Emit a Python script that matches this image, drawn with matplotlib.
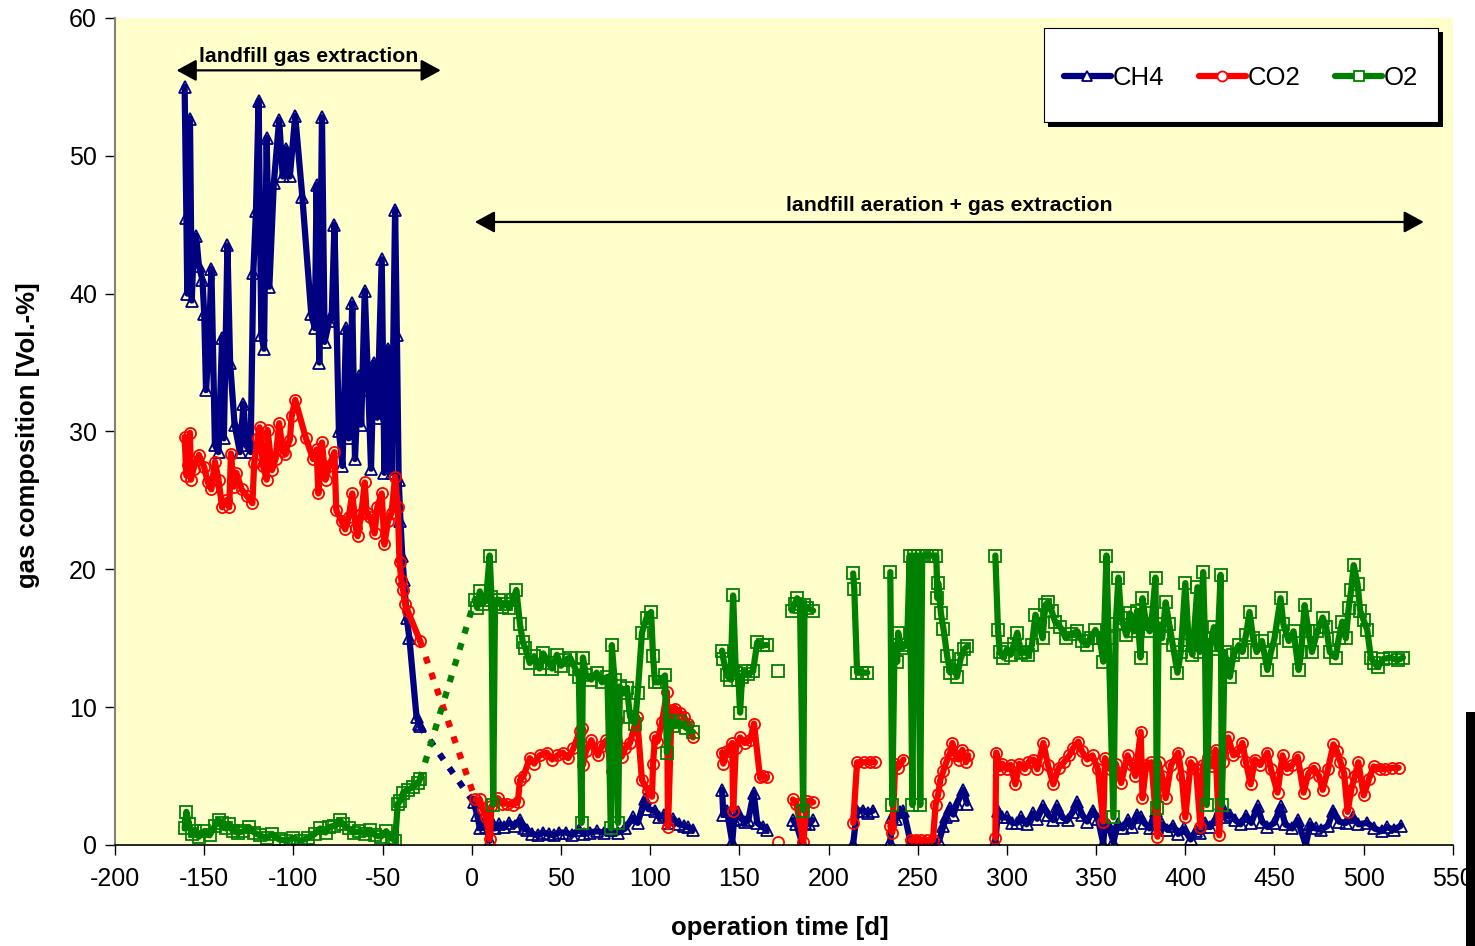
import numpy as np
import matplotlib
matplotlib.use("Agg")
import matplotlib.pyplot as plt
from matplotlib.patches import Rectangle

nan = np.nan

# --- landfill gas extraction phase (days before aeration start) ---
ch4_days_1 = [-161, -160, -159.5, -158, -157, -156, -154.5, -153, -151, -150, -149, -147.5,
              -146, -144, -142, -140, -139, -137, -135.5, -133, -130, -128, -126.5, -124,
              -122.5, -121, -119.5, -118, -116.5, -115, -113.5, -111, -108, -106, -104, -102,
              -99, -95, -90, -88, -87, -85.5, -84, -82.5, -80, -78.5, -77, -74.5, -72.5,
              -70.5, -69, -67, -65.5, -63.5, -62, -60, -58, -56.5, -55, -53, -50.5, -49, -47,
              -45, -43, -42, -41, -40, -39, -38, -36.5, -35, -31, -29.5, -29]
ch4_vol_1 = [55.0, 45.5, 40.0, 52.7, 39.5, 43.0, 44.2, 42.0, 41.0, 38.5, 33.0, 36.0,
             41.8, 29.0, 28.5, 36.8, 29.5, 43.5, 35.0, 30.5, 28.5, 32.0, 29.0, 28.5,
             41.5, 46.0, 54.0, 37.0, 36.0, 51.3, 40.5, 48.0, 52.6, 48.5, 50.5, 48.5,
             52.9, 47.0, 38.5, 37.5, 47.9, 35.0, 52.8, 36.5, 38.0, 38.5, 45.0, 30.0, 27.5,
             37.5, 29.5, 39.3, 28.0, 34.0, 30.5, 40.2, 33.0, 27.3, 35.0, 31.0, 42.5, 27.0, 36.0,
             27.0, 46.1, 37.0, 26.5, 23.5, 21.0, 19.2, 16.5, 15.0, 9.3, 8.8, 8.6]

co2_days_1 = [-161, -160, -159, -158, -157.5, -156, -153, -150, -148, -146, -144, -142,
              -140, -138, -136, -135, -133.5, -132, -129, -126, -123, -122, -120, -119,
              -117, -115, -114.5, -112, -110, -108, -106, -105, -102, -101, -99, -93, -89,
              -87, -86, -84, -82, -80, -77, -76, -73, -71, -69, -67, -65, -64, -62, -60,
              -59, -57, -54.5, -53, -50.5, -49, -47, -45, -43, -41.5, -40.5, -39.5, -38.5,
              -37.5, -36, -29]
co2_vol_1 = [29.6, 26.8, 27.6, 29.9, 26.5, 27.3, 28.3, 27.4, 26.3, 25.8, 27.8, 26.5,
             24.5, 25.0, 24.5, 28.4, 26.0, 27.0, 25.8, 25.3, 24.8, 27.7, 29.5, 30.3,
             27.5, 26.5, 30.1, 27.2, 28.0, 30.6, 28.6, 28.4, 29.4, 31.1, 32.3, 29.5, 28.0,
             28.7, 25.5, 29.2, 26.5, 27.5, 28.5, 24.3, 23.5, 22.9, 23.8, 25.5, 23.0, 22.4, 24.0, 26.3,
             24.1, 23.8, 22.6, 24.5, 25.5, 21.8, 23.5, 24.1, 26.7, 24.5, 20.5, 19.2, 18.5,
             17.5, 17.0, 14.8]

o2_days_1 = [-161, -160, -158.5, -157, -155, -153, -150, -147, -144, -142, -140, -138,
             -136, -134, -131, -128, -125, -122, -119, -115, -112, -108, -104, -100, -96,
             -92, -88, -85, -82, -80, -77, -74, -72, -69, -66, -63, -60, -57, -54, -51,
             -48, -45, -43, -41.5, -40, -38.5, -36, -33, -30, -29]
o2_vol_1 = [1.2, 2.4, 1.5, 0.8, 1.0, 0.6, 1.0, 0.7, 1.4, 1.8, 1.6, 1.2,
            1.5, 1.0, 0.9, 1.0, 1.3, 0.9, 0.7, 0.5, 0.8, 0.4, 0.3, 0.5, 0.3,
            0.5, 0.8, 1.2, 0.9, 1.3, 1.4, 1.8, 1.5, 1.2, 0.9, 1.0, 0.8, 1.1, 0.7, 0.6,
            1.0, 0.5, 0.3, 3.0, 3.2, 3.8, 4.0, 4.2, 4.5, 4.8]

# --- aeration + gas extraction phase (nan = no measurement, line broken) ---
ch4_days_2 = [1, 3, 4.5, 6, 8, 10, 11, 13, 15.5, 18, 21, 24, 27, 29, 31, 34, 37, 40, 43, 46,
              49, 53, 56, 60, 63, 66, 70, 74, 78, 82, 86, 90.3, 93, 97, 99, 102.7, 105, 108,
              110, 113, 116, 119, 121, 124, nan,
              140.3, 141, 143, 146, 147, 149, 151, 153, 155, 158, 160, 163, 165.5, nan,
              180, 182, 185, 187, 189, 191, nan,
              213.8, 216, 219.4, 222, 225, nan,
              234.6, 235.7, 238, 240, 242, 246, 250, 254, 258, 262, 264.4, 266, 268.2, 270,
              272, 275.5, 277.7, nan,
              293.5, 295, 297, 300, 303, 305.8, 308, 311, 314.8, 317, 320.4, 323, 326, 328,
              331, 334, 337, 339.5, 342, 345, 348, 351, 354, 355, 357, 359.7, 362, 365, 368,
              370, 373, 375, 377, 380, 383.3, 384.4, 387, 390, 393, 396, 399, 403, 406,
              408.5, 411, 414, 417, 419.8, 422, 425, 428, 431, 434, 437, 440.5, 443, 446,
              450, 453.4, 456, 460, 463, 467.5, 470, 473, 476, 480, 483, 486, 490, 494,
              497, 502, 506, 510, 513, 517, 520.8]
ch4_vol_2 = [3.1, 2.2, 1.2, 1.5, 1.3, 0.3, 1.8, 1.2, 1.5, 1.3, 1.6, 1.4, 1.8, 1.2, 1.1, 0.8,
             0.7, 0.9, 0.8, 0.7, 0.9, 0.9, 0.7, 1.1, 0.8, 0.9, 1.0, 0.9, 1.1, 0.9, 1.2, 2.0,
             1.6, 3.3, 2.6, 2.5, 2.0, 2.2, 1.6, 1.9, 1.5, 1.4, 1.3, 1.1, nan,
             4.0, 2.2, 2.5, 0.2, 1.8, 2.4, 1.9, 1.7, 1.8, 3.8, 1.6, 1.3, 1.1, nan,
             1.8, 1.5, 0.2, 1.6, 1.5, 1.8, nan,
             0.1, 2.5, 2.5, 2.3, 2.5, nan,
             0.2, 2.0, 1.9, 2.4, 2.5, 0.2, 0.2, 0.2, 0.2, 0.3, 1.4, 2.0, 2.7, 2.2,
             3.0, 4.0, 3.0, nan,
             0.2, 2.5, 2.0, 2.0, 1.6, 1.6, 2.0, 1.5, 2.3, 1.9, 2.8, 2.2, 1.8, 2.8,
             2.0, 1.8, 2.4, 3.1, 2.2, 1.7, 2.5, 1.9, 0.1, 1.8, 1.4, 0.2, 1.5, 1.2, 1.8,
             1.3, 2.2, 2.0, 1.6, 1.2, 2.5, 1.2, 1.5, 1.1, 1.4, 0.8, 1.2, 0.4, 1.0,
             0.9, 1.6, 1.3, 1.9, 3.0, 2.0, 2.2, 1.8, 1.5, 2.1, 1.6, 2.8, 1.7, 1.3,
             1.6, 2.8, 1.5, 1.2, 1.8, 0.0, 1.5, 1.2, 1.1, 1.4, 2.5, 1.7, 1.6, 2.0,
             1.5, 1.6, 1.2, 1.0, 1.3, 1.1, 1.4]

co2_days_2 = [2, 4.5, 6, 8, 10, 11, 14.6, 17, 20, 23, 25.8, 27, 29, 32.5, 35, 38, 42, 45, 48,
              51, 54, 57, 60.6, 61.7, 62.3, 64, 67, 70.7, 73, 75.5, 78.5, 81.4, 84, 86, 88.7,
              92.6, 95.4, 98.8, 101, 101.6, 102.7, 104, 106.6, 109.4, 110, 112, 114, 116.7,
              119, 121, 124, nan,
              140.3, 141, 143, 146, 146.5, 148, 150.4, 153, 156, 158.2, 161.6, 163, 165.5, nan,
              171.7, nan,
              180, 182, 185.8, 188, 191.4, nan,
              213.8, 216, 220, 223, 226, nan,
              234.6, 235.7, 237.4, 239, 242, nan,
              246, 249, 252, 255, 258.5, 260, 261.5, 262.6, 264.4, 266, 268.2, 269.4, 271,
              273, 275, 277, 278.3, nan,
              293.5, 294, 296, 297.4, 300, 302, 304.7, 307, 310, 312, 314.8, 317, 320.4, 323,
              326, 329, 332, 335, 337, 340, 342, 345, 348, 351, 354, 355, 358, 361, 364,
              367.6, 370, 372, 375, 376, 378, 381, 384.4, 385, 387, 389, 392, 396, 398, 400,
              403, 406, 408.5, 410, 412.5, 415, 417, 419, 421, 424, 427, 430, 432, 434,
              436.6, 439, 442, 446, 448, 451.7, 454.5, 457, 460, 463, 466.3, 469, 472, 475,
              477, 480, 483, 485, 487, 489, 491, 493, 495, 497, 500, 503, 505.6, 509, 512,
              516, 519.6]
co2_vol_2 = [3.3, 3.3, 2.6, 2.0, 0.4, 2.8, 3.4, 3.0, 3.0, 2.9, 3.1, 4.7, 5.0, 6.3, 5.9, 6.5,
             6.7, 6.2, 6.5, 6.7, 6.3, 7.0, 8.3, 8.5, 5.8, 6.8, 7.6, 6.5, 7.2, 7.6, 5.4, 9.1,
             6.4, 7.0, 7.4, 9.3, 4.7, 3.9, 3.5, 5.9, 7.8, 7.5, 8.9, 11.1, 1.3, 9.8, 9.9, 9.6,
             9.3, 8.8, 7.8, nan,
             6.7, 5.9, 6.8, 7.4, 2.5, 7.0, 7.8, 7.4, 7.6, 8.8, 4.9, 5.0, 4.9, nan,
             0.2, nan,
             3.3, 3.0, 0.2, 3.2, 3.1, nan,
             1.6, 6.0, 6.0, 6.0, 6.0, nan,
             1.4, 0.9, 5.9, 5.6, 6.2, nan,
             0.35, 0.35, 0.35, 0.35, 0.35, 2.9, 3.7, 4.7, 5.4, 6.0, 6.7, 7.4, 6.5,
             6.2, 6.9, 6.0, 6.5, nan,
             0.5, 6.7, 5.5, 5.9, 5.5, 5.8, 4.4, 5.9, 5.5, 6.0, 6.2, 5.5, 7.4, 5.8,
             4.4, 5.6, 6.0, 6.5, 7.0, 7.5, 6.8, 6.2, 6.5, 5.5, 1.7, 6.3, 5.5, 5.9, 4.5,
             6.5, 5.8, 5.0, 8.2, 3.4, 5.8, 6.0, 0.6, 6.0, 5.0, 3.4, 5.8, 6.7, 5.0, 2.0,
             6.0, 5.5, 1.3, 5.8, 6.4, 5.7, 6.9, 0.7, 6.0, 7.8, 6.5, 6.8, 7.4, 6.0,
             4.4, 6.2, 5.8, 6.7, 5.5, 3.8, 6.5, 5.5, 5.8, 6.4, 3.8, 5.2, 5.6, 5.0,
             4.0, 5.5, 7.3, 6.8, 6.0, 5.2, 2.4, 4.0, 5.0, 6.0, 3.6, 4.8, 5.7, 5.5, 5.5,
             5.6, 5.6]

o2_days_2 = [1.7, 3, 4.5, 6, 8, 10, 11, 12, 13, 15, 17, 19, 21, 23, 25, 27, 28.6, 30, 32.5,
             35, 38, 40, 43, 45, 47.7, 50, 52, 55, 58, 60, 61.5, 62.3, 64, 67, 70, 73, 76,
             78, 78.5, 80, 82, 83, 85, 87, 88.7, 91.5, 93, 95.4, 98, 100.5, 101.6, 102.7,
             105, 108.3, 109.4, 111, 113, 116.7, 120, 124, nan,
             140.3, 141, 143, 145, 146.5, 148, 149.5, 150.4, 151.5, 153, 155, 157.7, 160,
             163, 165.5, nan,
             171.7, nan,
             179.5, 181, 182.4, 184, 185.8, 186.5, 188, 191.4, nan,
             213.8, 214.4, 216, 219, 221.7, nan,
             234.6, 235.7, 237, 238.5, 239, 241, 244, 245.5, 247, 248, 250, 251.4, 252.5,
             255, 258, 260.4, 261, 261.5, 263, 264.4, 266.5, 268.2, 270, 272, 274, 276,
             277.7, nan,
             293.5, 295, 296, 298, 300, 302, 304, 305.8, 308, 310, 312, 314, 316, 318, 320,
             321.5, 323, 325, 327, 330, 333, 336, 339.5, 342, 345, 347, 349.6, 352, 354,
             355.8, 357, 359.7, 361, 362.5, 364, 367, 369, 371, 373, 374.9, 376, 378, 380,
             381.5, 383.3, 384, 385, 387, 389, 391, 393, 395.6, 397.5, 400, 402, 404,
             406.8, 408, 410, 411, 412, 414, 416, 418, 419.8, 420.5, 422, 425, 427, 430,
             432, 434, 436, 438, 440, 443, 446, 448, 450, 453.4, 455, 458, 460.7, 463.5,
             465, 466.9, 469, 471, 474, 477, 479, 481, 484.3, 486, 488, 490, 491.6, 493,
             494.4, 496.6, 498, 500, 502, 504, 506, 508, 511, 515, 519, 522]
o2_vol_2 = [17.8, 17.2, 18.4, 17.5, 17.8, 21.0, 18.0, 2.9, 17.5, 17.8, 17.3, 17.5, 17.2,
            17.8, 18.5, 16.0, 14.7, 14.3, 13.2, 13.7, 12.8, 13.9, 13.2, 12.8, 13.8, 13.0,
            13.4, 13.6, 12.8, 12.2, 1.6, 13.6, 12.3, 12.0, 12.5, 11.8, 12.2, 1.2, 14.5,
            12.0, 1.6, 11.5, 11.0, 11.4, 9.3, 8.8, 11.0, 15.4, 16.5, 16.9, 13.7, 11.8,
            11.8, 12.3, 6.7, 9.0, 8.6, 8.9, 8.5, 8.2, nan,
            14.1, 13.5, 12.3, 12.0, 18.1, 12.5, 12.0, 9.6, 12.2, 12.6, 12.4, 12.6, 14.7,
            14.5, 14.5, nan,
            12.6, nan,
            17.0, 17.5, 17.9, 17.3, 2.5, 17.4, 17.2, 17.0, nan,
            19.7, 18.6, 12.5, 12.5, 12.5, nan,
            19.8, 2.9, 14.5, 13.3, 15.4, 14.3, 14.5, 21.0, 2.9, 21.0, 21.0, 2.9, 21.0,
            21.0, 21.0, 21.0, 17.9, 19.0, 16.8, 15.7, 13.7, 12.5, 13.0, 12.2, 13.5, 14.2,
            14.4, nan,
            21.0, 15.6, 14.0, 13.6, 14.2, 13.8, 14.6, 15.4, 13.9, 14.0, 13.8, 14.5, 16.7,
            16.0, 15.0, 17.4, 17.6, 17.0, 16.2, 15.8, 15.0, 15.3, 15.5, 14.8, 14.5, 15.0,
            15.6, 15.0, 13.3, 21.0, 15.0, 2.0, 16.0, 19.4, 16.5, 15.2, 16.8, 15.5, 17.0,
            13.6, 17.9, 16.0, 15.5, 16.8, 19.4, 2.7, 16.0, 15.0, 17.6, 16.0, 14.5, 12.5,
            14.0, 19.0, 14.5, 13.8, 18.7, 14.0, 19.8, 15.0, 2.9, 14.5, 15.8, 14.2, 19.6,
            2.9, 14.0, 12.2, 13.8, 14.5, 14.0, 15.2, 16.9, 15.0, 14.0, 14.8, 12.7, 14.0,
            15.0, 17.9, 16.0, 14.8, 15.5, 12.7, 14.0, 17.4, 15.5, 14.0, 15.5, 16.5, 15.8,
            14.0, 13.6, 15.0, 16.2, 15.0, 17.2, 18.5, 20.3, 18.9, 17.0, 16.3, 15.6, 13.6,
            13.2, 12.9, 13.5, 13.6, 13.4, 13.6]

series = [
    ("CH4", "#000080", "^", ch4_days_1, ch4_vol_1, ch4_days_2, ch4_vol_2),
    ("CO2", "#FF0000", "o", co2_days_1, co2_vol_1, co2_days_2, co2_vol_2),
    ("O2", "#008000", "s", o2_days_1, o2_vol_1, o2_days_2, o2_vol_2),
]

plt.rcParams["font.family"] = ["Liberation Sans", "DejaVu Sans"]
plt.rcParams["axes.unicode_minus"] = False

fig = plt.figure(figsize=(14.75, 9.46), dpi=100)
ax = fig.add_axes([0.078, 0.1068, 0.907, 0.8742])
ax.set_facecolor("#FFFFCC")

lw = 4.5
ms = 8
handles = []
for name, col, mk, d1, v1, d2, v2 in series:
    style = dict(color=col, lw=lw, marker=mk, ms=ms, mfc="none", mec=col, mew=1.3,
                 solid_joinstyle="round", solid_capstyle="round")
    h, = ax.plot(d1, v1, label=name, **style)
    ax.plot(d2, v2, **style)
    # dotted bridge across the change-over period
    ax.plot([d1[-1], d2[0]], [v1[-1], v2[0]], color=col, lw=lw,
            ls=(0, (1.1, 1.6)), dash_capstyle="butt")
    handles.append(h)

ax.set_xlim(-200, 550)
ax.set_ylim(0, 60)
ax.set_xticks(np.arange(-200, 551, 50))
ax.set_yticks(np.arange(0, 61, 10))
ax.tick_params(axis="both", direction="out", labelsize=18, length=7, width=1, pad=6)
ax.tick_params(axis="x", pad=9)
for side in ("top", "right"):
    ax.spines[side].set_visible(False)
ax.spines["left"].set_color("#808080")
ax.spines["left"].set_linewidth(1.5)
ax.spines["bottom"].set_linewidth(1.2)

ax.set_xlabel("operation time [d]", fontsize=18.5, fontweight="bold")
ax.set_ylabel("gas composition [Vol.-%]", fontsize=18.5, fontweight="bold")
ax.xaxis.set_label_coords(0.497, -0.086)
ax.yaxis.set_label_coords(-0.056, 0.496)

arrow = dict(arrowstyle="<|-|>,head_length=0.55,head_width=0.3", color="black",
             lw=1.6, mutation_scale=22, shrinkA=0, shrinkB=0)
ax.annotate("", xy=(-17.4, 56.2), xytext=(-165.5, 56.2), arrowprops=arrow)
ax.text(-91.5, 57.2, "landfill gas extraction", ha="center", va="center",
        fontsize=15.3, fontweight="bold")
ax.annotate("", xy=(533.7, 45.2), xytext=(1.7, 45.2), arrowprops=arrow)
ax.text(267.7, 46.4, "landfill aeration + gas extraction", ha="center", va="center",
        fontsize=15.3, fontweight="bold")

# legend box with a hard drop shadow, legend itself drawn frameless on top
box_x, box_y, box_w, box_h = 0.694, 0.874, 0.295, 0.114
ax.add_patch(Rectangle((box_x + 0.0035, box_y - 0.0055), box_w, box_h,
                       transform=ax.transAxes, facecolor="black", edgecolor="none",
                       zorder=4.8))
ax.add_patch(Rectangle((box_x, box_y), box_w, box_h, transform=ax.transAxes,
                       facecolor="white", edgecolor="black", lw=0.8, zorder=4.9))
leg = ax.legend(handles=handles, ncol=3, loc="center",
                bbox_to_anchor=(box_x + box_w / 2, box_y + box_h / 2 - 0.003),
                fontsize=18.5, frameon=False, handlelength=1.85, handletextpad=0.05,
                columnspacing=1.35, borderaxespad=0, borderpad=0, markerscale=0.9)
for lh in leg.legend_handles:
    lh.set_markerfacecolor("white")

# black strip at the lower right border
fig.patches.append(Rectangle((0.9939, 0), 0.01, 0.247, transform=fig.transFigure,
                             facecolor="black", edgecolor="none"))

fig.savefig("out.png", dpi=100)
